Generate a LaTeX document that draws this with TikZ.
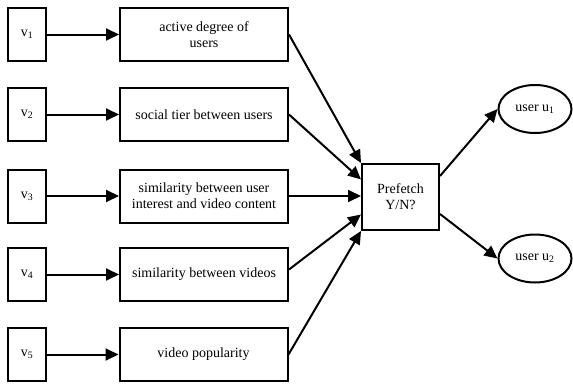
\documentclass[tikz,border=0pt]{standalone}
\usepackage{fontspec}
\setmainfont{Liberation Serif}
\usetikzlibrary{arrows.meta,shapes.geometric}
\begin{document}
\begin{tikzpicture}[x=1pt,y=-1pt,
  every node/.style={font=\fontsize{14}{16}\selectfont},
  vbox/.style={draw,line width=2pt,minimum width=38pt,minimum height=53pt,inner sep=0pt},
  fbox/.style={draw,line width=2pt,minimum width=168pt,minimum height=53pt,inner sep=0pt,align=center},
  pbox/.style={draw,line width=2pt,minimum width=77pt,minimum height=66pt,inner sep=0pt,align=center},
  ubox/.style={draw,ellipse,line width=2pt,minimum width=73pt,minimum height=48pt,inner sep=0pt},
  arr/.style={line width=2pt,-{Triangle[length=13pt,width=12pt]}}]
\useasboundingbox (0,0) rectangle (573,383);
\node[vbox] (v1) at (27,34.5) {v\textsubscript{1}};
\node[vbox] (v2) at (27,114.5) {v\textsubscript{2}};
\node[vbox] (v3) at (27,196) {v\textsubscript{3}};
\node[vbox] (v4) at (27,274.5) {v\textsubscript{4}};
\node[vbox] (v5) at (27,354.5) {v\textsubscript{5}};
\node[fbox] (f1) at (204,34.5) {active degree of\\users};
\node[fbox] (f2) at (204,114.5) {social tier between users};
\node[fbox] (f3) at (204,196) {similarity between user\\interest and video content};
\node[fbox] (f4) at (204,274.5) {similarity between videos};
\node[fbox] (f5) at (203.5,354.5) {video popularity};
\node[pbox] (p) at (400.5,197) {Prefetch\\Y/N?};
\node[ubox] (u1) at (535,109) {user u\textsubscript{1}};
\node[ubox] (u2) at (535,258.5) {user u\textsubscript{2}};
\foreach \i in {1,...,5} {\draw[arr] (v\i.east) -- (f\i.west);}
\draw[arr] (f1.east) -- (p.north west);
\draw[arr] (f2.east) -- ([yshift=-16.5pt]p.north west);
\draw[arr] (f3.east) -- (f3.east -| p.west);
\draw[arr] ([yshift=5pt]f4.east) -- ([yshift=16.5pt]p.south west);
\draw[arr] (f5.east) -- (p.south west);
\draw[arr] ([yshift=-13pt]p.north east) -- (u1.west);
\draw[arr] ([yshift=17pt]p.south east) -- (u2.west);
\end{tikzpicture}
\end{document}
